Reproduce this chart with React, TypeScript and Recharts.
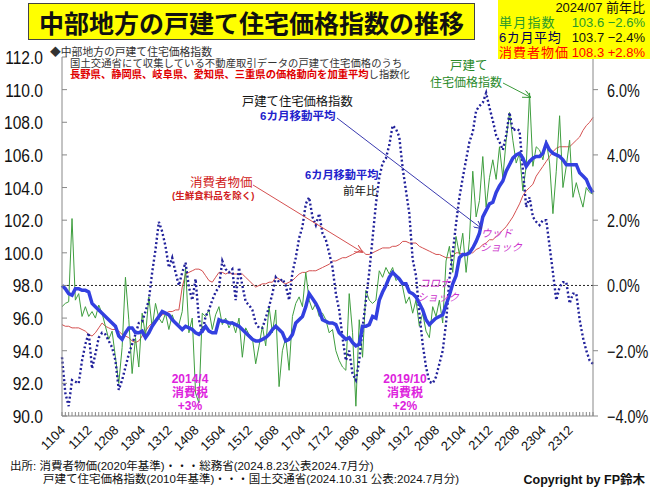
import { LineChart, Line, XAxis, YAxis, ReferenceLine } from "recharts";

const FONT = "'Liberation Sans', Arial, 'Noto Sans CJK JP', sans-serif";
const JP = "'Noto Sans CJK JP', sans-serif";

// monthly categories 2011/04 .. 2024/07 (YYMM)
const MONTHS: string[] = [];
for (let y = 2011, m = 4; MONTHS.length < 160; ) {
  MONTHS.push(String(y % 100).padStart(2, "0") + String(m).padStart(2, "0"));
  m++;
  if (m > 12) {
    m = 1;
    y++;
  }
}

const TICK_LABELS = [
  "1104", "1112", "1208", "1304", "1312", "1408", "1504", "1512", "1608", "1704",
  "1712", "1808", "1904", "1912", "2008", "2104", "2112", "2208", "2304", "2312",
];
const LEFT_TICKS = [90, 92, 94, 96, 98, 100, 102, 104, 106, 108, 110, 112];
const RIGHT_TICKS = [-4, -2, 0, 2, 4, 6];

// 戸建て住宅価格指数 (単月)
const houseIndex = [
  96.7, 96.9, 97.0, 102.1, 97.1, 97.5, 96.1, 96.7, 96.1, 96.4,
  96.0, 96.8, 96.3, 95.5, 94.7, 95.2, 93.6, 92.0, 94.2, 98.5,
  95.9, 92.6, 94.8, 93.0, 96.3, 94.9, 97.3, 95.4, 96.9, 96.0,
  95.7, 96.3, 95.3, 96.2, 95.6, 95.6, 96.4, 99.1, 95.1, 96.0,
  91.4, 90.8, 96.3, 96.1, 96.5, 95.3, 96.2, 96.7, 95.6, 96.0,
  95.4, 95.8, 95.1, 96.0, 93.6, 95.4, 95.0, 94.8, 93.2, 94.3,
  95.5, 94.3, 96.7, 95.1, 96.5, 91.8, 94.0, 94.8, 92.8, 96.1,
  96.9, 97.3, 96.7, 98.8, 97.1, 96.5, 96.9, 96.1, 96.3, 95.9,
  95.1, 95.3, 94.0, 93.4, 93.0, 92.8, 97.5, 95.1, 90.6, 95.9,
  93.6, 97.7, 97.1, 96.9, 97.1, 98.9, 98.5, 99.1, 98.7, 99.1,
  98.3, 98.5, 97.9, 96.9, 97.3, 96.3, 97.1, 95.5, 96.3, 95.2,
  94.8, 96.7, 96.1, 97.1, 95.7, 99.5, 100.4, 98.8, 101.0, 99.9,
  101.2, 98.8, 100.8, 105.0, 102.2, 103.2, 105.9, 102.8, 104.6, 105.7,
  104.5, 106.5, 104.6, 106.9, 108.6, 106.9, 105.5, 106.1, 103.8, 105.3,
  109.8, 105.3, 106.5, 106.3, 105.7, 106.9, 105.5, 102.4, 105.0, 108.4,
  104.0, 105.3, 106.9, 103.4, 104.3, 103.5, 102.8, 104.0, 103.7, 103.6,
];

// 6カ月移動平均
const houseMa6 = [
  98.0, 97.8, 97.5, 97.4, 97.8, 97.8, 97.7, 97.7, 97.6, 96.9,
  96.7, 96.5, 96.3, 96.1, 95.9, 95.7, 95.5, 94.9, 94.7, 95.1,
  95.4, 95.4, 95.1, 95.1, 95.2, 94.8, 95.1, 95.5, 95.8, 96.1,
  96.4, 96.3, 96.2, 95.9, 95.7, 95.5, 95.3, 95.5, 95.4, 95.3,
  95.1, 95.0, 95.2, 95.5, 95.2, 95.1, 95.1, 95.9, 95.8, 95.8,
  95.7, 95.7, 95.6, 95.5, 95.3, 95.1, 94.9, 94.7, 94.6, 94.6,
  94.7, 94.8, 95.0, 95.3, 95.5, 95.3, 95.1, 94.6, 94.7, 95.0,
  95.7, 95.9, 96.1, 96.7, 97.5, 97.2, 96.9, 96.5, 95.9, 95.8,
  95.7, 95.7, 95.6, 95.1, 94.9, 94.7, 94.8, 94.5, 94.3, 94.4,
  95.5, 95.5, 95.6, 96.1, 96.0, 97.1, 97.6, 98.0, 98.5, 98.8,
  98.6, 98.4, 98.1, 98.1, 97.6, 97.5, 97.3, 96.9, 96.5, 95.9,
  95.6, 95.8, 96.0, 96.1, 96.2, 96.8, 97.4, 98.1, 98.6, 99.7,
  99.9, 99.9, 100.0, 100.3, 100.7, 101.2, 102.2, 102.6, 103.0, 103.1,
  103.7, 104.1, 104.4, 105.0, 105.4, 105.8, 106.0, 106.1, 105.8, 105.3,
  105.6, 105.8, 105.9, 105.9, 106.1, 106.7, 106.3, 106.1, 106.0, 105.9,
  105.7, 105.4, 105.4, 105.4, 105.4, 104.9, 104.7, 104.5, 104.0, 103.7,
];

// 6カ月移動平均 前年比 (%)
const ma6Yoy = [
  -2.2, -3.3, -3.7, -2.9, -2.95, -3.0, -2.3, -1.8, -1.45, -2.55,
  -2.1, -1.6, -1.45, -1.5, -1.7, -1.9, -2.3, -3.2, -2.9, -2.5,
  -2.1, -1.8, -1.5, -1.15, -1.1, -0.8, -0.45, 0.4, 1.1, 1.95,
  1.65, 1.2, 0.55, 0.85, 0.4, 0.0, 0.4, 0.7, -0.05, -0.45,
  0.2, -1.05, -1.45, -0.95, -0.75, -0.45, -0.2, -0.05, 0.75, 0.5,
  0.4, 0.5, -0.45, 0.55, 0.0, -0.5, -0.6, -0.75, -1.15, -1.3,
  -1.3, -1.0, -0.65, -0.25, 0.25, 0.1, 0.2, 0.0, -0.45, 0.4,
  0.85, 1.45, 1.8, 2.5, 2.7, 2.1, 1.85, 2.2, 1.6, 1.4,
  1.0, 0.55, -0.25, -0.75, -1.6, -2.3, -2.0, -2.7, -2.9, -2.3,
  -1.3, -0.45, 0.4, 1.45, 2.5, 3.3, 3.75, 3.9, 4.3, 4.9,
  4.8, 4.55, 3.6, 2.9, 2.2, 0.8, 0.3, -0.85, -1.8, -2.5,
  -2.95, -3.0, -2.8, -2.4, -2.0, -1.15, 0.2, 1.0, 1.9, 2.7,
  3.3, 3.85, 4.4, 4.7, 5.35, 5.5, 5.6, 5.9, 5.45, 5.05,
  4.6, 4.4, 4.15, 4.6, 5.3, 4.75, 4.8, 4.75, 3.55, 2.4,
  2.7, 2.1, 1.95, 1.85, 2.0, 2.0, 1.2, 0.4, -0.45, -0.05,
  0.1, 0.1, -0.55, -0.25, -0.25, -1.05, -1.6, -2.0, -2.3, -2.4,
];

// 消費者物価 (生鮮食料品を除く)
const cpi = [
  95.6, 95.5, 95.5, 95.4, 95.4, 95.4, 95.3, 95.2, 95.0, 94.9,
  95.1, 95.4, 95.7, 95.5, 95.4, 95.3, 95.3, 95.2, 95.0, 94.9,
  94.8, 94.6, 94.5, 94.6, 94.9, 95.2, 95.5, 95.7, 95.9, 96.0,
  96.2, 96.3, 96.4, 96.4, 96.5, 96.5, 97.9, 98.7, 98.8, 98.9,
  99.0, 99.0, 98.9, 98.6, 98.3, 98.2, 98.5, 98.8, 98.8, 98.7,
  98.8, 98.7, 98.7, 98.7, 98.7, 98.5, 98.3, 98.1, 97.9, 98.0,
  98.1, 98.1, 98.2, 98.2, 98.5, 98.4, 98.2, 98.1, 98.2, 98.3,
  98.5, 98.7, 98.8, 98.8, 98.9, 98.9, 98.9, 99.0, 99.1, 99.2,
  99.3, 99.5, 99.5, 99.6, 99.7, 99.7, 99.8, 99.9, 100.0, 100.1,
  100.1, 99.9, 99.9, 100.0, 100.1, 100.2, 100.3, 100.3, 100.3, 100.4,
  100.4, 100.5, 100.7, 100.7, 100.6, 100.6, 100.6, 100.4, 100.3, 100.2,
  100.1, 100.0, 99.9, 99.9, 99.8, 99.7, 99.7, 99.8, 100.0, 100.0,
  99.9, 99.9, 100.0, 100.0, 100.2, 100.3, 100.5, 100.6, 100.8, 100.8,
  101.0, 101.2, 101.4, 101.6, 101.9, 102.2, 102.6, 103.0, 103.5, 103.8,
  104.0, 104.2, 104.7, 105.0, 105.3, 105.6, 105.9, 106.2, 106.4, 106.5,
  106.5, 106.5, 106.5, 106.7, 106.9, 107.1, 107.5, 107.8, 108.0, 108.3,
];

const chartData = MONTHS.map((m, i) => ({
  m,
  idx: houseIndex[i],
  ma: houseMa6[i],
  yoy: ma6Yoy[i],
  cpi: cpi[i],
}));

// eslint-disable-next-line @typescript-eslint/no-explicit-any
function LeftTick({ x, y, payload }: any) {
  return (
    <g>
      <line x1={x} x2={x + 5} y1={y} y2={y} stroke="#888" />
      <text
        transform={`translate(${x - 19},${y + 7}) scale(0.82,1)`}
        textAnchor="end"
        fontSize={19}
        fill="#111"
        fontFamily={FONT}
      >
        {Number(payload.value).toFixed(1)}
      </text>
    </g>
  );
}

// eslint-disable-next-line @typescript-eslint/no-explicit-any
function RightTick({ x, y, payload }: any) {
  const v = Number(payload.value);
  const s = (v < 0 ? "\u2212" : "") + Math.abs(v).toFixed(1) + "%";
  return (
    <g>
      <line x1={x} x2={x + 5} y1={y} y2={y} stroke="#888" />
      <text
        transform={`translate(${x + 14},${y + 7}) scale(0.8,1)`}
        textAnchor="start"
        fontSize={18}
        fill="#111"
        fontFamily={FONT}
      >
        {s}
      </text>
    </g>
  );
}

// eslint-disable-next-line @typescript-eslint/no-explicit-any
function MonthTick({ x, y, payload }: any) {
  const show = TICK_LABELS.includes(payload.value);
  return (
    <g>
      <line x1={x} x2={x} y1={y} y2={y - 4} stroke="#888" />
      {show && (
        <text
          transform={`translate(${x + 4},${y + 15}) rotate(-45)`}
          textAnchor="end"
          fontSize={13}
          fill="#111"
          fontFamily={FONT}
        >
          {payload.value}
        </text>
      )}
    </g>
  );
}

// eslint-disable-next-line @typescript-eslint/no-explicit-any
function Txt({ x, y, size, color = "#111", bold, right, font = FONT, children, italic, ls = 0 }: any) {
  return (
    <div
      style={{
        position: "absolute",
        left: right ? undefined : x,
        right: right ? 650 - x : undefined,
        top: y - size / 2,
        fontSize: size,
        lineHeight: `${size}px`,
        color,
        fontWeight: bold ? 700 : 400,
        fontStyle: italic ? "italic" : "normal",
        fontFamily: font,
        letterSpacing: ls,
        whiteSpace: "nowrap",
      }}
    >
      {children}
    </div>
  );
}

const taxStyle = {
  position: "absolute" as const,
  top: 373,
  width: 60,
  textAlign: "center" as const,
  color: "#dd22dd",
  fontFamily: FONT,
  fontWeight: 700,
  fontSize: 12,
  lineHeight: "13.5px",
};

export default function App() {
  return (
    <div
      style={{
        position: "absolute",
        left: 0,
        top: 0,
        width: 650,
        height: 487,
        background: "#fff",
        overflow: "hidden",
      }}
    >
      <LineChart
        width={650}
        height={487}
        data={chartData}
        margin={{ top: 57, right: 0, bottom: 0, left: 0 }}
      >
        <XAxis
          dataKey="m"
          interval={0}
          height={71}
          tickLine={false}
          tickSize={0}
          tickMargin={0}
          axisLine={{ stroke: "#888" }}
          tick={<MonthTick />}
        />
        <YAxis
          yAxisId="left"
          domain={[90, 112]}
          ticks={LEFT_TICKS}
          width={62}
          tickLine={false}
          tickSize={0}
          tickMargin={0}
          axisLine={{ stroke: "#888" }}
          tick={<LeftTick />}
          allowDataOverflow
        />
        <YAxis
          yAxisId="right"
          orientation="right"
          domain={[-4, 7]}
          ticks={RIGHT_TICKS}
          width={57}
          tickLine={false}
          tickSize={0}
          tickMargin={0}
          axisLine={{ stroke: "#888" }}
          tick={<RightTick />}
          allowDataOverflow
        />
        <ReferenceLine
          yAxisId="right"
          y={0}
          stroke="#222"
          strokeDasharray="2 2"
          strokeWidth={1}
        />
        <Line
          yAxisId="left"
          dataKey="cpi"
          type="linear"
          stroke="#d45050"
          strokeWidth={1}
          dot={false}
          isAnimationActive={false}
        />
        <Line
          yAxisId="left"
          dataKey="idx"
          type="linear"
          stroke="#3f9e3f"
          strokeWidth={1}
          dot={false}
          isAnimationActive={false}
        />
        <Line
          yAxisId="right"
          dataKey="yoy"
          type="linear"
          stroke="#20209a"
          strokeWidth={2.4}
          strokeDasharray="2 2.4"
          dot={false}
          isAnimationActive={false}
        />
        <Line
          yAxisId="left"
          dataKey="ma"
          type="linear"
          stroke="#3340e0"
          strokeWidth={3.5}
          dot={false}
          isAnimationActive={false}
        />
      </LineChart>

      {/* arrows */}
      <svg
        width={650}
        height={487}
        style={{ position: "absolute", left: 0, top: 0, pointerEvents: "none" }}
      >
        <defs>
          <marker id="ag" markerWidth="8" markerHeight="8" refX="7" refY="4" orient="auto">
            <path d="M0,0 L8,4 L0,8" fill="none" stroke="#3a9a3a" />
          </marker>
          <marker id="ab" markerWidth="8" markerHeight="8" refX="7" refY="4" orient="auto">
            <path d="M0,0 L8,4 L0,8" fill="none" stroke="#3a3ab0" />
          </marker>
          <marker id="ar" markerWidth="8" markerHeight="8" refX="7" refY="4" orient="auto">
            <path d="M0,0 L8,4 L0,8" fill="none" stroke="#d45050" />
          </marker>
        </defs>
        <line x1={503} y1={83} x2={530} y2={97} stroke="#3a9a3a" markerEnd="url(#ag)" />
        <line x1={337} y1={118} x2={481} y2={228} stroke="#3a3ab0" markerEnd="url(#ab)" />
        <line x1={253} y1={185} x2={362} y2={252} stroke="#d45050" markerEnd="url(#ar)" />
      </svg>

      {/* title */}
      <div
        style={{
          position: "absolute",
          left: 28,
          top: 3,
          width: 445,
          height: 35,
          background: "#ffff00",
          border: "1px solid #444",
          display: "flex",
          alignItems: "center",
          justifyContent: "center",
          fontFamily: JP,
          fontWeight: 700,
          fontSize: 25,
          color: "#111",
          whiteSpace: "nowrap",
        }}
      >
        中部地方の戸建て住宅価格指数の推移
      </div>

      {/* info box */}
      <div
        style={{
          position: "absolute",
          left: 498,
          top: 0,
          width: 152,
          height: 59,
          background: "#ffff00",
        }}
      />
      <Txt x={645} y={7.5} size={13} right>2024/07 前年比</Txt>
      <Txt x={499} y={22.5} size={13} color="#2a9a2a" ls={1.2}>単月指数</Txt>
      <Txt x={645} y={22.5} size={13} color="#2a9a2a" right>103.6 −2.6%</Txt>
      <Txt x={499} y={37.5} size={13} color="#000055" ls={0.6}>6カ月平均</Txt>
      <Txt x={645} y={37.5} size={13} right>103.7 −2.4%</Txt>
      <Txt x={499} y={52.5} size={13} color="#ff0000" ls={1}>消費者物価</Txt>
      <Txt x={645} y={52.5} size={13} color="#ff0000" right>108.3 +2.8%</Txt>

      {/* description */}
      <Txt x={50} y={52} size={10.8} color="#333">◆中部地方の戸建て住宅価格指数</Txt>
      <Txt x={70} y={64} size={10.3} color="#333" ls={0.1}>
        国土交通省にて収集している不動産取引データの戸建て住宅価格のうち
      </Txt>
      <Txt x={70} y={75.5} size={10.3} color="#333">
        <span style={{ color: "#e00000", fontWeight: 700 }}>
          長野県、静岡県、岐阜県、愛知県、三重県の価格動向を加重平均
        </span>
        し指数化
      </Txt>

      {/* series labels */}
      <Txt x={450} y={66} size={12.5} color="#2a8a2a">戸建て</Txt>
      <Txt x={430} y={83} size={12} color="#2a8a2a">住宅価格指数</Txt>
      <Txt x={242} y={102} size={12.3} color="#111">戸建て住宅価格指数</Txt>
      <Txt x={260} y={117} size={11.5} color="#2222cc" bold>6カ月移動平均</Txt>
      <Txt x={190} y={183} size={12.5} color="#d02020">消費者物価</Txt>
      <Txt x={172} y={196} size={9.5} color="#d02020" bold>(生鮮食料品を除く)</Txt>
      <Txt x={305} y={176} size={11.2} color="#2222cc" bold>6カ月移動平均</Txt>
      <Txt x={343} y={192} size={11.5} color="#111">前年比</Txt>

      <Txt x={481} y={233} size={10.5} color="#cc33cc" italic>ウッド</Txt>
      <Txt x={480} y={247} size={10.5} color="#cc33cc" italic>ショック</Txt>
      <Txt x={419} y={283} size={10.5} color="#cc33cc" italic>コロナ</Txt>
      <Txt x={417} y={297} size={10.5} color="#cc33cc" italic>ショック</Txt>

      <div style={{ ...taxStyle, left: 160 }}>
        2014/4<br />消費税<br />+3%
      </div>
      <div style={{ ...taxStyle, left: 375 }}>
        2019/10<br />消費税<br />+2%
      </div>

      {/* footer */}
      <Txt x={10} y={467} size={11.5} color="#111">
        出所: 消費者物価(2020年基準)・・・総務省(2024.8.23公表2024.7月分)
      </Txt>
      <Txt x={43} y={480} size={11.5} color="#111">
        戸建て住宅価格指数(2010年基準)・・・国土交通省(2024.10.31 公表:2024.7月分)
      </Txt>
      <Txt x={645} y={480} size={12.5} color="#111" bold right>
        Copyright by FP鈴木
      </Txt>
    </div>
  );
}
